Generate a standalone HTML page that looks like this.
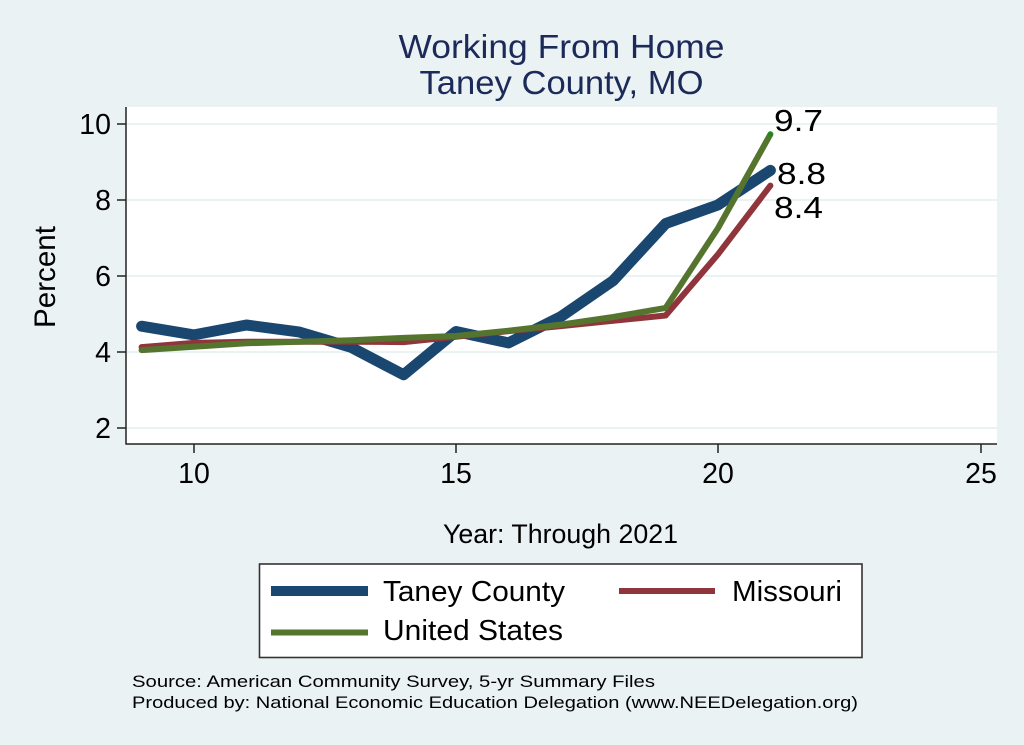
<!DOCTYPE html>
<html>
<head>
<meta charset="utf-8">
<style>
  html, body { margin: 0; padding: 0; background: #EAF2F3; }
  svg { display: block; }
  text { font-family: "Liberation Sans", Arial, Helvetica, sans-serif; fill: #000; }
</style>
</head>
<body>
<svg width="1024" height="745" viewBox="0 0 1024 745" xmlns="http://www.w3.org/2000/svg">
  <rect x="0" y="0" width="1024" height="745" fill="#EAF2F3"/>

  <!-- Title -->
  <text x="561.5" y="58" font-size="33" text-anchor="middle" style="fill:#1C2A5A" textLength="326" lengthAdjust="spacingAndGlyphs">Working From Home</text>
  <text x="561.5" y="94" font-size="33" text-anchor="middle" style="fill:#1C2A5A" textLength="284" lengthAdjust="spacingAndGlyphs">Taney County, MO</text>

  <!-- Plot region -->
  <rect x="126" y="107" width="871" height="337" fill="#FFFFFF"/>

  <!-- Gridlines -->
  <g stroke="#EAF2F3" stroke-width="2">
    <line x1="127" y1="124" x2="997" y2="124"/>
    <line x1="127" y1="200" x2="997" y2="200"/>
    <line x1="127" y1="276" x2="997" y2="276"/>
    <line x1="127" y1="352" x2="997" y2="352"/>
    <line x1="127" y1="428" x2="997" y2="428"/>
  </g>

  <!-- Axes -->
  <g stroke="#222" stroke-width="1.5">
    <line x1="126" y1="107" x2="126" y2="444.5"/>
    <line x1="125.5" y1="444" x2="997" y2="444"/>
    <!-- y ticks -->
    <line x1="117" y1="124" x2="126" y2="124"/>
    <line x1="117" y1="200" x2="126" y2="200"/>
    <line x1="117" y1="276" x2="126" y2="276"/>
    <line x1="117" y1="352" x2="126" y2="352"/>
    <line x1="117" y1="428" x2="126" y2="428"/>
    <!-- x ticks -->
    <line x1="194" y1="444" x2="194" y2="453"/>
    <line x1="456" y1="444" x2="456" y2="453"/>
    <line x1="718" y1="444" x2="718" y2="453"/>
    <line x1="981" y1="444" x2="981" y2="453"/>
  </g>

  <!-- Y tick labels -->
  <g font-size="28.5" text-anchor="end">
    <text x="111" y="134">10</text>
    <text x="111" y="210">8</text>
    <text x="111" y="286">6</text>
    <text x="111" y="362">4</text>
    <text x="111" y="438">2</text>
  </g>

  <!-- X tick labels -->
  <g font-size="28.5" text-anchor="middle">
    <text x="194" y="483">10</text>
    <text x="456" y="483">15</text>
    <text x="718" y="483">20</text>
    <text x="981" y="483">25</text>
  </g>

  <!-- Axis titles -->
  <text transform="translate(55,277) rotate(-90)" font-size="29.5" text-anchor="middle" textLength="102" lengthAdjust="spacingAndGlyphs">Percent</text>
  <text x="560.5" y="543" font-size="26.5" text-anchor="middle" textLength="235" lengthAdjust="spacingAndGlyphs">Year: Through 2021</text>

  <!-- Series -->
  <polyline fill="none" stroke="#1A476F" stroke-width="11" stroke-linejoin="round" stroke-linecap="round"
    points="141.6,326.2 194,334.9 246.4,325.0 298.8,331.9 351.2,347.4 403.6,374.8 456,331.5 508.4,342.9 560.8,316.7 613.2,280.6 665.6,223.6 718,204.9 770.4,170.4"/>
  <polyline fill="none" stroke="#90353B" stroke-width="6" stroke-linejoin="round" stroke-linecap="round"
    points="141.6,347.1 194,342.9 246.4,341.7 298.8,341.7 351.2,341.7 403.6,342.1 456,336.8 508.4,331.1 560.8,326.2 613.2,320.8 665.6,315.5 718,254.3 770.4,185.6"/>
  <polyline fill="none" stroke="#55752F" stroke-width="6" stroke-linejoin="round" stroke-linecap="round"
    points="141.6,350.1 194,346.7 246.4,343.3 298.8,341.7 351.2,340.2 403.6,337.9 456,336.0 508.4,330.7 560.8,324.6 613.2,317.0 665.6,307.9 718,228.1 770.4,134.3"/>
  <circle cx="770.4" cy="134.3" r="2.5" fill="#1E8A1E"/>

  <!-- Value labels -->
  <g font-size="31">
    <text x="774" y="131" textLength="49" lengthAdjust="spacingAndGlyphs">9.7</text>
    <text x="777" y="184" textLength="49" lengthAdjust="spacingAndGlyphs">8.8</text>
    <text x="774" y="218" textLength="49" lengthAdjust="spacingAndGlyphs">8.4</text>
  </g>

  <!-- Legend -->
  <rect x="259.5" y="564" width="602.5" height="93.5" fill="#FFFFFF" stroke="#333" stroke-width="1.6"/>
  <line x1="271" y1="591" x2="368" y2="591" stroke="#1A476F" stroke-width="10"/>
  <line x1="619" y1="591" x2="715" y2="591" stroke="#90353B" stroke-width="6"/>
  <line x1="271" y1="632.5" x2="368" y2="632.5" stroke="#55752F" stroke-width="6"/>
  <g font-size="29">
    <text x="383" y="601" textLength="182" lengthAdjust="spacingAndGlyphs">Taney County</text>
    <text x="732" y="601" textLength="110" lengthAdjust="spacingAndGlyphs">Missouri</text>
    <text x="383" y="640" textLength="180" lengthAdjust="spacingAndGlyphs">United States</text>
  </g>

  <!-- Notes -->
  <g font-size="17">
    <text x="132" y="687" textLength="523" lengthAdjust="spacingAndGlyphs">Source: American Community Survey, 5-yr Summary Files</text>
    <text x="132" y="708" textLength="726" lengthAdjust="spacingAndGlyphs">Produced by: National Economic Education Delegation (www.NEEDelegation.org)</text>
  </g>
</svg>
</body>
</html>
